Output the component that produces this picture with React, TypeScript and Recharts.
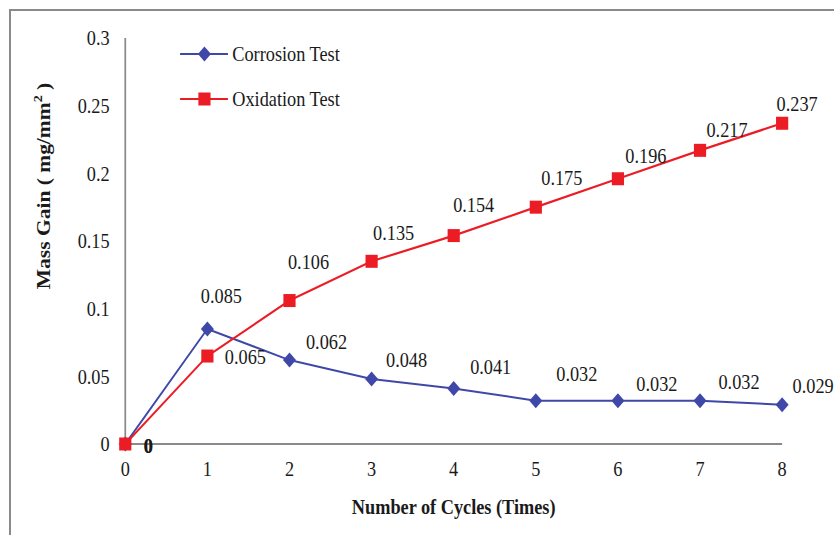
import React from 'react';
import { LineChart, Line, XAxis, YAxis, LabelList, Legend } from 'recharts';

const cycles = [0, 1, 2, 3, 4, 5, 6, 7, 8];
const corrosion = [0, 0.085, 0.062, 0.048, 0.041, 0.032, 0.032, 0.032, 0.029];
const oxidation = [0, 0.065, 0.106, 0.135, 0.154, 0.175, 0.196, 0.217, 0.237];
const yTicks = [0, 0.05, 0.1, 0.15, 0.2, 0.25, 0.3];
const xTicks = [0, 1, 2, 3, 4, 5, 6, 7, 8];
const seriesNames = ['Corrosion Test', 'Oxidation Test'];
const xTitle = 'Number of Cycles (Times)';

const data = cycles.map((c, i) => ({ x: c, corrosion: corrosion[i], oxidation: oxidation[i] }));

// horizontal squeeze of the reference picture
const S = 0.87;
const W = Math.round(834 / S);
const H = 535;
const BLUE = '#3F48A8';
const RED = '#EC1C24';
const GRAY = '#8a8a8a';
const FONT = '"Liberation Serif", "Times New Roman", serif';

// label offsets (screen px) relative to each point
const corrOff = [[23, 2], [14, -33], [37, -19], [35, -19], [37, -22], [41, -27], [39, -17], [39, -19], [31, -19]];
const oxOff = [[23, 2], [38, 1], [19, -39], [22, -29], [20, -31], [26, -30], [28, -23], [27, -21], [15, -20]];

const makeLabel = (off: number[][], bold0: boolean) => (props: any) => {
  const { x, y, value, index } = props;
  const o = off[index] || [0, 0];
  return (
    <text
      key={`l${index}`}
      x={x + o[0] / S}
      y={y + o[1]}
      textAnchor="middle"
      dominantBaseline="central"
      fontFamily={FONT}
      fontSize={21}
      fontWeight={index === 0 && bold0 ? 'bold' : 'normal'}
      fill="#1a1a1a"
    >
      {String(value)}
    </text>
  );
};

const Diamond = (props: any) => {
  const { cx, cy, index } = props;
  if (cx == null || cy == null) return <g key={`d${index}`} />;
  const r = 7.5;
  return (
    <polygon
      key={`d${index}`}
      points={`${cx},${cy - r} ${cx + r},${cy} ${cx},${cy + r} ${cx - r},${cy}`}
      fill={BLUE}
    />
  );
};

const Square = (props: any) => {
  const { cx, cy, index } = props;
  if (cx == null || cy == null) return <g key={`s${index}`} />;
  return <rect key={`s${index}`} x={cx - 7} y={cy - 6.5} width={14} height={13} fill={RED} />;
};

const LegendContent = () => (
  <svg width={260} height={90} style={{ overflow: 'visible' }}>
    {[0, 1].map((i) => {
      const y = i === 0 ? 20 : 65;
      const color = i === 0 ? BLUE : RED;
      return (
        <g key={i}>
          <line x1={7} x2={62} y1={y} y2={y} stroke={color} strokeWidth={2} />
          {i === 0 ? (
            <polygon points={`35,${y - 7.5} 42.5,${y} 35,${y + 7.5} 27.5,${y}`} fill={color} />
          ) : (
            <rect x={28} y={y - 6.5} width={14} height={13} fill={color} />
          )}
          <text x={67} y={y} dominantBaseline="central" fontFamily={FONT} fontSize={21} fill="#1a1a1a">
            {seriesNames[i]}
          </text>
        </g>
      );
    })}
  </svg>
);

export default function App() {
  return (
    <div style={{ position: 'absolute', left: 0, top: 0, width: 834, height: 535, overflow: 'hidden', background: '#fff' }}>
      <div
        style={{
          position: 'absolute',
          left: 9,
          top: 9,
          width: 840,
          height: 540,
          borderTop: `2px solid ${GRAY}`,
          borderLeft: `2px solid ${GRAY}`,
        }}
      />
      <div style={{ position: 'absolute', left: 0, top: 0, transform: `scaleX(${S})`, transformOrigin: '0 0' }}>
        <LineChart width={W} height={H} data={data} margin={{ top: 38, right: W - Math.round(782 / S), bottom: 0, left: 0 }}>
          <XAxis
            type="number"
            dataKey="x"
            domain={[0, 8]}
            ticks={xTicks}
            interval={0}
            height={91}
            tickLine={false}
            tickSize={0}
            tickMargin={17}
            axisLine={{ stroke: GRAY, strokeWidth: 2 }}
            tick={{ fontFamily: FONT, fontSize: 21, fill: '#1a1a1a' }}
            label={{
              content: (p: any) => {
                const vb = p.viewBox || {};
                return (
                  <text
                    x={vb.x + vb.width / 2}
                    y={507}
                    textAnchor="middle"
                    dominantBaseline="central"
                    fontFamily={FONT}
                    fontSize={21}
                    fontWeight="bold"
                    fill="#1a1a1a"
                  >
                    {xTitle}
                  </text>
                );
              },
            }}
          />
          <YAxis
            type="number"
            domain={[0, 0.3]}
            ticks={yTicks}
            interval={0}
            width={Math.round(125 / S)}
            tickLine={false}
            tickSize={0}
            tickMargin={18}
            axisLine={{ stroke: GRAY, strokeWidth: 2 }}
            tick={{ fontFamily: FONT, fontSize: 21, fill: '#1a1a1a' }}
            label={{
              content: () => (
                <text
                  x={0}
                  y={0}
                  transform={`translate(${44 / S}, 186) rotate(-90)`}
                  textAnchor="middle"
                  dominantBaseline="central"
                  fontFamily={FONT}
                  fontSize={21.5}
                  fontWeight="bold"
                  fill="#1a1a1a"
                >
                  Mass Gain ( mg/mm
                  <tspan fontSize={14} dy={-8}>2</tspan>
                  <tspan dy={8}> )</tspan>
                </text>
              ),
            }}
          />
          <Legend
            layout="vertical"
            align="center"
            verticalAlign="middle"
            wrapperStyle={{ left: 200, top: 34, width: 260, height: 90 }}
            content={LegendContent}
          />
          <Line
            type="linear"
            dataKey="corrosion"
            name={seriesNames[0]}
            stroke={BLUE}
            strokeWidth={2}
            dot={Diamond}
            activeDot={false}
            isAnimationActive={false}
          >
            <LabelList dataKey="corrosion" content={makeLabel(corrOff, true)} />
          </Line>
          <Line
            type="linear"
            dataKey="oxidation"
            name={seriesNames[1]}
            stroke={RED}
            strokeWidth={2.2}
            dot={Square}
            activeDot={false}
            isAnimationActive={false}
          >
            <LabelList dataKey="oxidation" content={makeLabel(oxOff, true)} />
          </Line>
        </LineChart>
      </div>
    </div>
  );
}
